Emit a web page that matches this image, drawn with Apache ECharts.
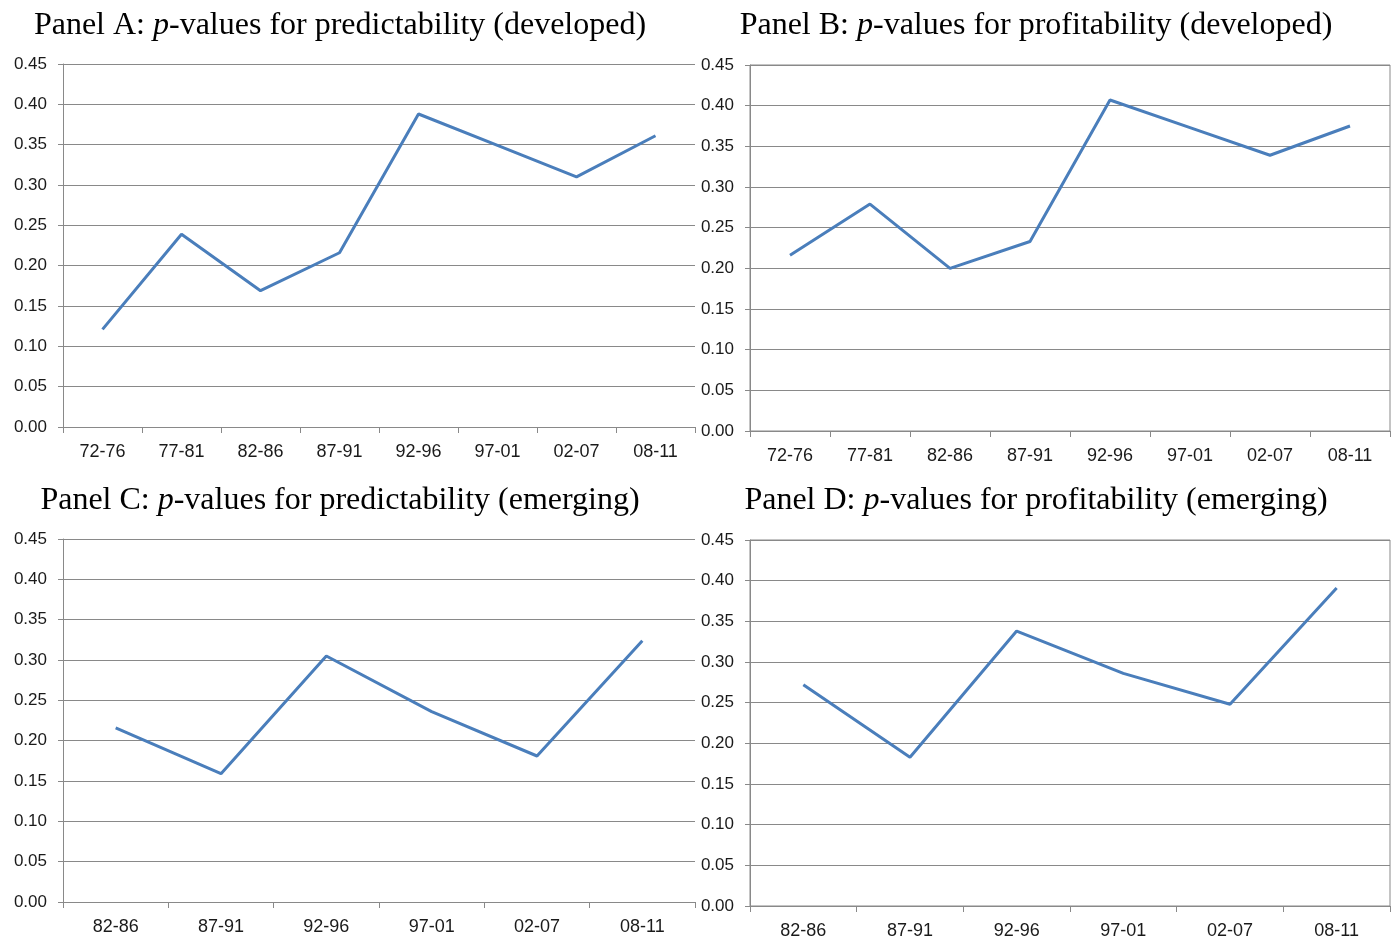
<!DOCTYPE html>
<html>
<head>
<meta charset="utf-8">
<script src="https://cdn.jsdelivr.net/npm/echarts@6/dist/echarts.min.js"></script>
<style>
html,body{margin:0;padding:0;background:#fff;}
#chart{width:1397px;height:944px;}
</style>
</head>
<body>
<div id="chart"></div>
<script>
// ---- data ----
const catsDeveloped = ['72-76','77-81','82-86','87-91','92-96','97-01','02-07','08-11'];
const catsEmerging = ['82-86','87-91','92-96','97-01','02-07','08-11'];
const panelA = [0.121, 0.239, 0.169, 0.216, 0.388, 0.349, 0.310, 0.361];
const panelB = [0.216, 0.279, 0.200, 0.233, 0.407, 0.373, 0.339, 0.375];
const panelC = [0.216, 0.159, 0.305, 0.236, 0.181, 0.324];
const panelD = [0.272, 0.183, 0.338, 0.286, 0.248, 0.391];
const titleA = ['Panel A: ', 'p', '-values for predictability (developed)'];
const titleB = ['Panel B: ', 'p', '-values for profitability (developed)'];
const titleC = ['Panel C: ', 'p', '-values for predictability (emerging)'];
const titleD = ['Panel D: ', 'p', '-values for profitability (emerging)'];

// ---- layout ----
const grids = [
  {left: 63, top: 64, width: 632, height: 363, border: false},
  {left: 750, top: 65, width: 640, height: 366, border: true},
  {left: 63, top: 539, width: 632, height: 363, border: false},
  {left: 750, top: 540, width: 640, height: 366, border: true}
];
const titlePos = [
  {x: 340, y: 10}, {x: 1036, y: 10}, {x: 340, y: 485}, {x: 1036, y: 485}
];
const titles = [titleA, titleB, titleC, titleD];
const cats = [catsDeveloped, catsDeveloped, catsEmerging, catsEmerging];
const values = [panelA, panelB, panelC, panelD];

const grey = '#898989';
const labelFont = '"Liberation Sans", Arial, sans-serif';
const serif = '"Liberation Serif", "Times New Roman", serif';

const option = {
  backgroundColor: '#ffffff',
  animation: false,
  title: titles.map((t, i) => ({
    text: '{n|' + t[0] + '}{i|' + t[1] + '}{n|' + t[2] + '}',
    left: titlePos[i].x,
    top: titlePos[i].y,
    textAlign: 'center',
    padding: 0,
    textStyle: {
      fontWeight: 'normal',
      rich: {
        n: {fontFamily: serif, fontSize: 32, fontWeight: 'normal', color: '#000'},
        i: {fontFamily: serif, fontSize: 32, fontWeight: 'normal', fontStyle: 'italic', color: '#000'}
      }
    }
  })),
  grid: grids.map(g => ({
    left: g.left, top: g.top, width: g.width, height: g.height,
    show: g.border, borderColor: grey, borderWidth: 1, backgroundColor: 'transparent'
  })),
  xAxis: cats.map((c, i) => ({
    type: 'category',
    gridIndex: i,
    data: c,
    boundaryGap: true,
    axisLine: {show: true, lineStyle: {color: grey, width: 1}},
    axisTick: {show: true, length: 6, lineStyle: {color: grey}},
    axisLabel: {color: '#1a1a1a', fontFamily: labelFont, fontSize: 18, margin: 16},
    splitLine: {show: false}
  })),
  yAxis: cats.map((c, i) => ({
    type: 'value',
    gridIndex: i,
    min: 0,
    max: 0.45,
    interval: 0.05,
    axisLine: {show: true, lineStyle: {color: grey, width: 1}},
    axisTick: {show: true, length: 5, lineStyle: {color: grey}},
    axisLabel: {color: '#1a1a1a', fontFamily: labelFont, fontSize: 17, margin: 16,
      formatter: v => v.toFixed(2)},
    splitLine: {show: true, lineStyle: {color: grey, width: 1}}
  })),
  series: values.map((v, i) => ({
    type: 'line',
    xAxisIndex: i,
    yAxisIndex: i,
    data: v,
    showSymbol: false,
    symbol: 'none',
    lineStyle: {color: '#4a7ebb', width: 3},
    itemStyle: {color: '#4a7ebb'}
  }))
};

const chart = echarts.init(document.getElementById('chart'), null, {renderer: 'canvas'});
chart.setOption(option);
</script>
</body>
</html>
